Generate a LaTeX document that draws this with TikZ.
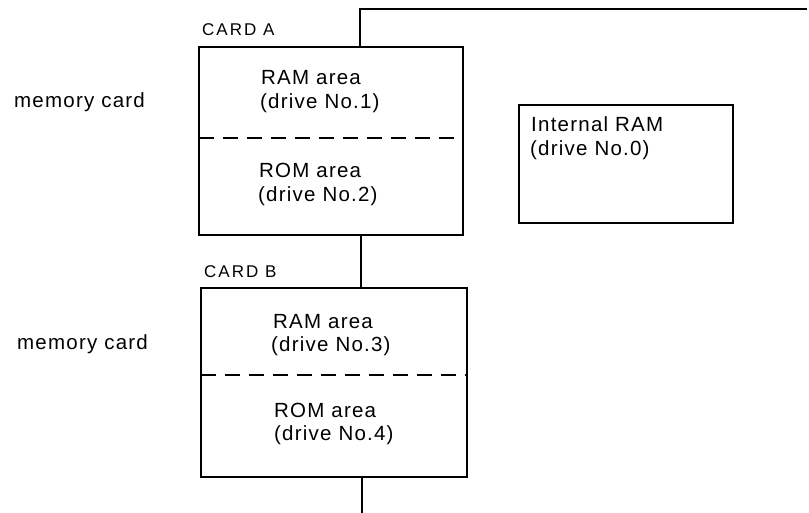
\documentclass[tikz,border=0pt]{standalone}
\usepackage{fontspec}
\setmainfont{Liberation Sans}
\newfontfamily\widesans[LetterSpace=6]{Liberation Sans}
\newfontfamily\cardsans[LetterSpace=12]{Liberation Sans}
\begin{document}
\begin{tikzpicture}[x=1pt,y=-1pt,
  box/.style={draw,line width=1.4pt,rectangle,inner sep=0pt},
  sep/.style={line width=1.2pt,dash pattern=on 15pt off 9pt},
  wire/.style={line width=1.4pt},
  txt/.style={font=\widesans\fontsize{20.5}{23.5}\selectfont,inner sep=0pt,anchor=base west},
  lbl/.style={font=\cardsans\fontsize{17}{19}\selectfont,inner sep=0pt,anchor=base west}]
\useasboundingbox (0,0) rectangle (809,513);
% boxes
\node[box,minimum width=264pt,minimum height=188pt] (cardA) at (331,141) {};
\node[box,minimum width=266pt,minimum height=189pt] (cardB) at (334,382.5) {};
\node[box,minimum width=214pt,minimum height=118pt] (iram) at (626,164) {};
% dashed separators
\coordinate (aL) at (199,138); \coordinate (aR) at (463,138);
\coordinate (bL) at (201,375); \coordinate (bR) at (467,375);
\draw[sep] (aL) -- (aR);
\draw[sep] (bL) -- (bR);
% wires
\coordinate (topA) at (360,47);
\coordinate (corner) at (360,9);
\coordinate (topEnd) at (807,9);
\coordinate (botA) at (361,235);
\coordinate (topB) at (361,288);
\coordinate (botB) at (362,477);
\coordinate (endB) at (362,513);
\draw[wire] (topA) -- (corner) -- (topEnd);
\draw[wire] (botA) -- (topB);
\draw[wire] (botB) -- (endB);
% texts
\node[txt] (ramA1) at (261,85) {RAM area};
\node[txt] (ramA2) at (260,109) {(drive No.1)};
\node[txt] (romA1) at (259,178) {ROM area};
\node[txt] (romA2) at (258,202) {(drive No.2)};
\node[txt] (ramB1) at (273,328) {RAM area};
\node[txt] (ramB2) at (271,351) {(drive No.3)};
\node[txt] (romB1) at (274,417) {ROM area};
\node[txt] (romB2) at (274,440) {(drive No.4)};
\node[txt] (iram1) at (531,132) {Internal RAM};
\node[txt] (iram2) at (530,156) {(drive No.0)};
\node[lbl] (cla) at (202,36) {CARD A};
\node[lbl] (clb) at (204,277) {CARD B};
\node[txt] (mcA) at (14,108) {memory card};
\node[txt] (mcB) at (17,349) {memory card};
\end{tikzpicture}
\end{document}
